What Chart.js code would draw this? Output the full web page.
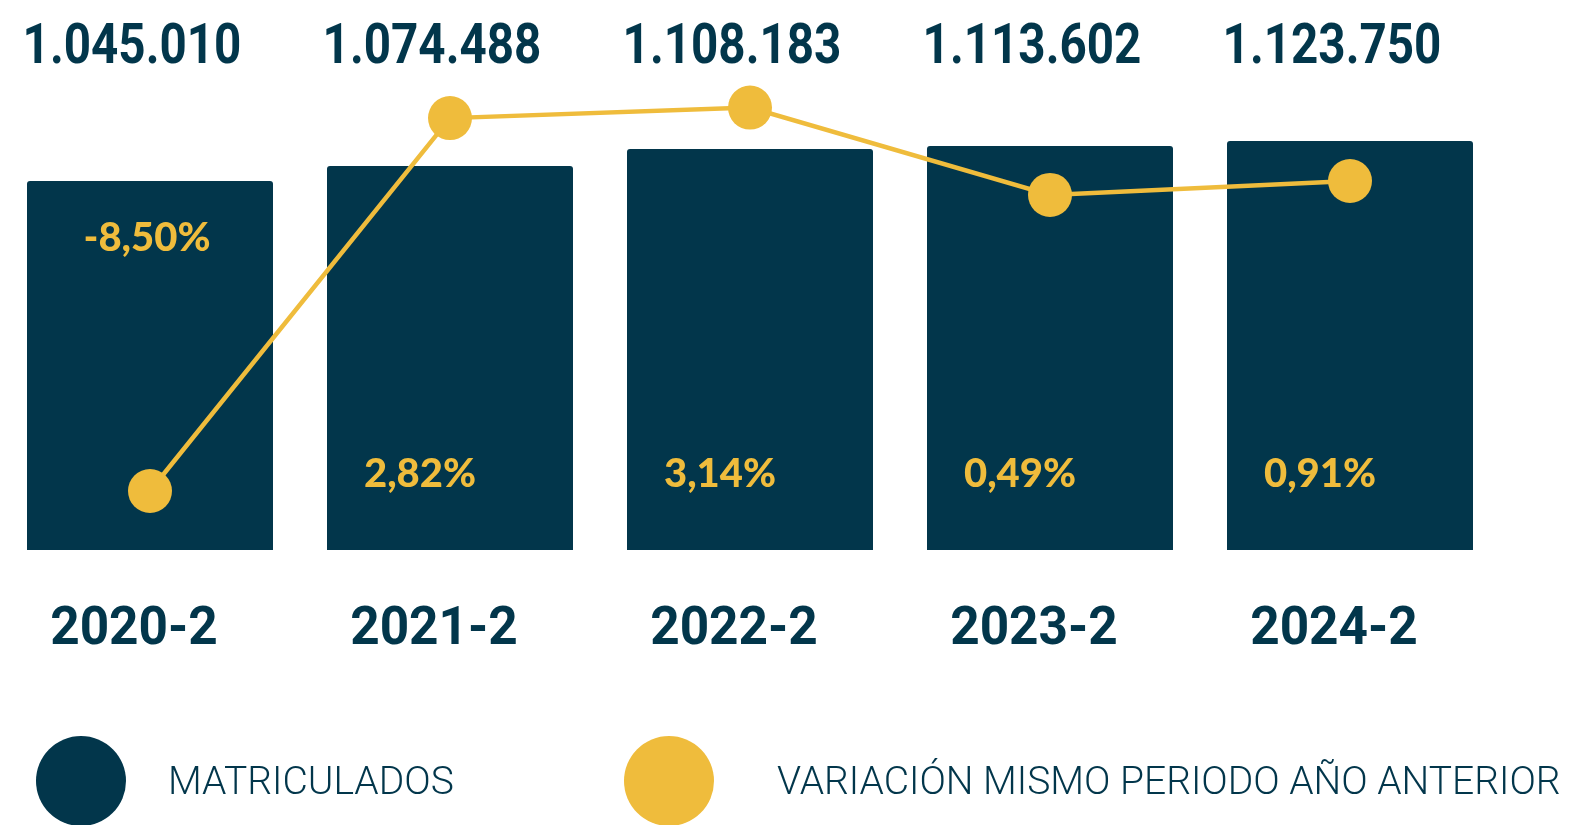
<!DOCTYPE html>
<html>
<head>
<meta charset="utf-8">
<script src="https://cdn.jsdelivr.net/npm/chart.js@4.4.1/dist/chart.umd.min.js"></script>
<style>
  html, body { margin: 0; padding: 0; background: #ffffff; }
  #caja { width: 1575px; height: 825px; position: relative; }
</style>
</head>
<body>
<div id="caja"><canvas id="grafica"></canvas></div>
<script>
// Datos
const periodos = ['2020-2', '2021-2', '2022-2', '2023-2', '2024-2'];
const matriculados = [1045010, 1074488, 1108183, 1113602, 1123750];
const variacion = [-8.50, 2.82, 3.14, 0.49, 0.91];
const etiquetasMatriculados = ['1.045.010', '1.074.488', '1.108.183', '1.113.602', '1.123.750'];
const etiquetasVariacion = ['-8,50%', '2,82%', '3,14%', '0,49%', '0,91%'];

const AZUL = '#02364b';
const AMARILLO = '#efbc3c';

// texto un poco más estrecho (tipo DIN condensada)
function textoEstrecho(ctx, txt, x, y, escala) {
  ctx.save();
  ctx.translate(x, y);
  ctx.scale(escala, 1);
  ctx.fillText(txt, 0, 0);
  ctx.restore();
}

// Textos, etiquetas y leyenda dibujados sobre el canvas
const textos = {
  id: 'textos',
  afterDatasetsDraw(chart) {
    const ctx = chart.ctx;
    const x = chart.scales.x;
    const area = chart.chartArea;
    const barras = chart.getDatasetMeta(0).data;
    ctx.save();
    ctx.textAlign = 'center';
    ctx.textBaseline = 'middle';

    periodos.forEach((p, i) => {
      const cx = x.getPixelForValue(i);
      // valor arriba
      ctx.fillStyle = AZUL;
      ctx.font = 'bold 56px Roboto';
      textoEstrecho(ctx, etiquetasMatriculados[i], cx - 18, 49, 0.85);
      // periodo abajo
      ctx.font = 'bold 53px Roboto';
      textoEstrecho(ctx, p, cx - 16, 631, 0.97);
      // porcentaje dentro de la barra
      ctx.fillStyle = AMARILLO;
      ctx.font = '900 40px Lato';
      const b = barras[i];
      const neg = variacion[i] < 0;
      const y = neg ? b.y + 57 : area.bottom - 76;
      ctx.fillText(etiquetasVariacion[i], cx - (neg ? 3 : 30), y);
    });

    // Leyenda
    const items = chart.data.datasets.map(d => ({ txt: d.label, color: d.backgroundColor }));
    const circX = [81, 669];
    const txtX = [168, 777];
    ctx.textAlign = 'left';
    ctx.font = '300 39px Roboto';
    items.forEach((it, i) => {
      ctx.fillStyle = it.color;
      ctx.beginPath();
      ctx.arc(circX[i], 781, 45, 0, Math.PI * 2);
      ctx.fill();
      ctx.fillStyle = AZUL;
      ctx.fillText(it.txt, txtX[i], 784);
    });
    ctx.restore();
  }
};

new Chart(document.getElementById('grafica'), {
  data: {
    labels: periodos,
    datasets: [
      {
        type: 'bar',
        label: 'MATRICULADOS',
        data: matriculados,
        backgroundColor: AZUL,
        borderRadius: 3,
        borderSkipped: false,
        categoryPercentage: 1,
        barPercentage: 0.82,
        yAxisID: 'y',
        order: 1
      },
      {
        type: 'line',
        label: 'VARIACIÓN MISMO PERIODO AÑO ANTERIOR',
        data: variacion,
        borderColor: AMARILLO,
        backgroundColor: AMARILLO,
        borderWidth: 4.5,
        pointRadius: 22,
        pointHoverRadius: 22,
        pointBorderWidth: 0,
        tension: 0,
        clip: false,
        yAxisID: 'y1',
        order: 0
      }
    ]
  },
  options: {
    responsive: true,
    maintainAspectRatio: false,
    animation: false,
    layout: { autoPadding: false, padding: { top: 100, bottom: 275, left: 0, right: 75 } },
    plugins: {
      legend: { display: false },
      tooltip: { enabled: false }
    },
    scales: {
      x: { display: false, offset: true },
      y: { display: false, min: 322000, max: 1204000 },
      y1: { display: false, min: -10.29, max: 3.37 }
    }
  },
  plugins: [textos]
});
</script>
</body>
</html>
